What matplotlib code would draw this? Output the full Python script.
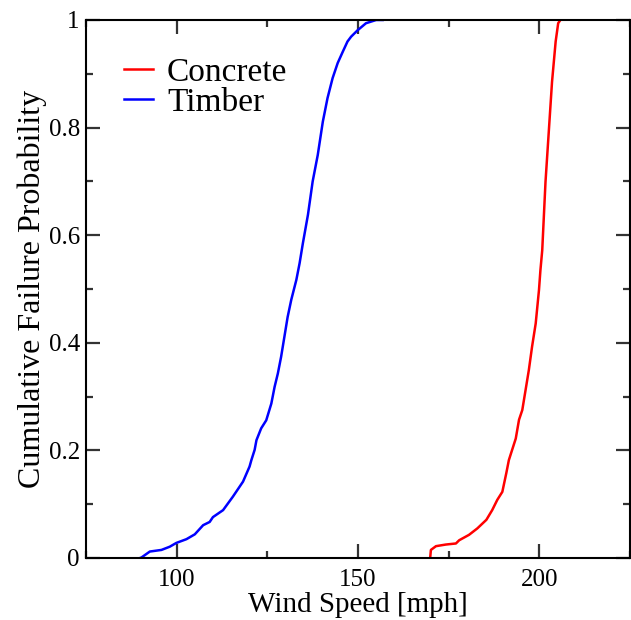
import matplotlib
matplotlib.use("Agg")
import matplotlib.pyplot as plt
from matplotlib.ticker import MultipleLocator

plt.rcParams['font.family'] = ['Liberation Serif', 'DejaVu Serif']

timber_speed = [89.9, 90.3, 92.6, 95.8, 98.1, 99.9, 102.7, 105.0, 107.3, 109.1, 110.0, 112.8,
                115.5, 118.3, 120.1, 120.6, 121.5, 122.0, 123.3, 124.7, 126.1, 127.0, 127.9,
                128.8, 129.7, 130.6, 131.6, 133.0, 133.9, 134.8, 136.2, 137.5, 138.9, 140.3,
                141.6, 143.0, 144.4, 145.8, 147.1, 148.1, 149.9, 152.2, 155.0, 156.8]
timber_prob = [0.0, 0.001, 0.012, 0.015, 0.021, 0.028, 0.035, 0.044, 0.061, 0.067, 0.076, 0.089,
               0.114, 0.142, 0.170, 0.182, 0.201, 0.219, 0.241, 0.256, 0.287, 0.318, 0.343,
               0.374, 0.411, 0.448, 0.480, 0.517, 0.548, 0.585, 0.638, 0.700, 0.749, 0.811,
               0.855, 0.892, 0.920, 0.941, 0.960, 0.969, 0.981, 0.994, 1.0, 1.0]

concrete_speed = [169.9, 170.1, 171.5, 174.2, 177.0, 177.9, 180.6, 182.9, 185.4, 187.0, 188.4,
                  189.8, 190.9, 191.6, 192.5, 193.5, 194.4, 195.3, 196.2, 197.1, 198.0, 199.0,
                  199.9, 200.3, 200.8, 201.7, 202.6, 203.5, 204.5, 205.2, 205.8]
concrete_prob = [0.0, 0.015, 0.022, 0.025, 0.027, 0.033, 0.043, 0.055, 0.071, 0.089, 0.108,
                 0.123, 0.158, 0.182, 0.201, 0.222, 0.257, 0.275, 0.312, 0.349, 0.393, 0.436,
                 0.498, 0.535, 0.572, 0.699, 0.792, 0.885, 0.960, 0.994, 1.0]

fig = plt.figure(figsize=(6.31, 6.20), dpi=100)
ax = fig.add_axes([86/631, 62/620, (630-86)/631, (558-20)/620])

ax.plot(concrete_speed, concrete_prob, color='#ff0000', lw=1.8, label='Concrete')
ax.plot(timber_speed, timber_prob, color='#0000ff', lw=1.8, label='Timber')

ax.set_xlim(75, 225)
ax.set_ylim(0, 1)
ax.xaxis.set_major_locator(MultipleLocator(50))
ax.xaxis.set_minor_locator(MultipleLocator(25))
ax.yaxis.set_major_locator(MultipleLocator(0.2))
ax.yaxis.set_minor_locator(MultipleLocator(0.1))
ax.yaxis.set_major_formatter(matplotlib.ticker.FuncFormatter(lambda v, p: f"{v:g}"))

ax.tick_params(which='both', direction='in', top=True, right=True, width=1.6, color='#333333',
               labelsize=18)
ax.tick_params(which='major', length=10)
ax.tick_params(which='minor', length=5)
ax.tick_params(axis='x', pad=8)
ax.tick_params(axis='y', pad=4.5)
for s in ax.spines.values():
    s.set_linewidth(1.5)

ax.set_xlabel('Wind Speed [mph]', fontsize=21, labelpad=1)
ax.set_ylabel('Cumulative Failure Probability', fontsize=23, labelpad=1)

ax.legend(loc='upper left', bbox_to_anchor=(0.07, 0.931), frameon=False, fontsize=24,
          handlelength=0.87, handletextpad=0.42, labelspacing=0.0, borderpad=0,
          borderaxespad=0)

fig.savefig('out.png', dpi=100)
